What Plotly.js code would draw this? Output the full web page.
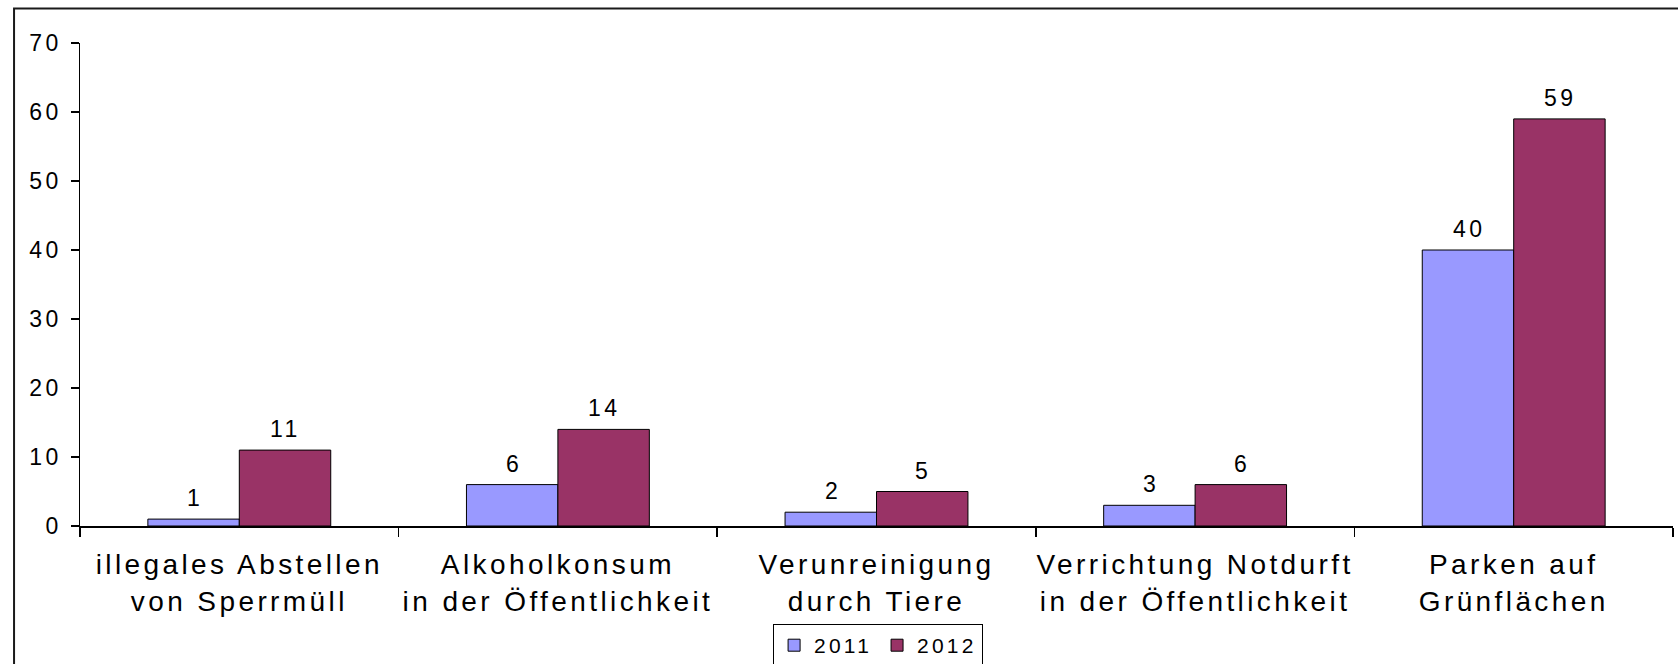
<!DOCTYPE html>
<html>
<head>
<meta charset="utf-8">
<script src="https://cdn.plot.ly/plotly-3.0.1.min.js"></script>
<style>
  html, body { margin: 0; padding: 0; background: #fff; overflow: hidden; width: 1678px; height: 664px; }
  #chart { width: 1678px; height: 664px; }
  .xtick text { letter-spacing: 3.4px; }
  .ytick text { letter-spacing: 3.5px; }
  .annotation-text { letter-spacing: 3.5px; }
  .legendtext { letter-spacing: 3.2px; }
</style>
</head>
<body>
<div id="chart"></div>
<script>
// ---- data ----
const categories = [
  "illegales Abstellen<br>von Sperrmüll",
  "Alkoholkonsum<br>in der Öffentlichkeit",
  "Verunreinigung<br>durch Tiere",
  "Verrichtung Notdurft<br>in der Öffentlichkeit",
  "Parken auf<br>Grünflächen"
];
const seriesNames = ["2011", "2012"];
const values2011 = [1, 6, 2, 3, 40];
const values2012 = [11, 14, 5, 6, 59];
const yTicks = [0, 10, 20, 30, 40, 50, 60, 70];

const colors = ["#9999FF", "#993366"];
const FONT = '"Liberation Sans", Arial, sans-serif';

const traces = [
  {
    type: "bar", name: seriesNames[0], x: categories, y: values2011,
    marker: { color: colors[0], line: { color: "#000000", width: 1 } },
    hoverinfo: "none"
  },
  {
    type: "bar", name: seriesNames[1], x: categories, y: values2012,
    marker: { color: colors[1], line: { color: "#000000", width: 1 } },
    hoverinfo: "none"
  }
];

const annotations = [];
[values2011, values2012].forEach((vals, si) => {
  vals.forEach((v, i) => {
    annotations.push({
      x: categories[i], y: v, xref: "x", yref: "y",
      text: String(v), showarrow: false,
      xshift: si === 0 ? -44 : 46.5, yshift: 6,
      yanchor: "bottom", xanchor: "center",
      font: { family: FONT, size: 23, color: "#000000" }
    });
  });
});

const layout = {
  width: 1678, height: 664,
  margin: { l: 80, r: 5, t: 43, b: 138, autoexpand: false },
  paper_bgcolor: "#ffffff", plot_bgcolor: "#ffffff",
  font: { family: FONT, color: "#000000" },
  barmode: "group", bargap: 0.426, bargroupgap: 0,
  showlegend: true,
  legend: {
    orientation: "h", x: 0.501, xanchor: "center", y: -0.203, yanchor: "top",
    bordercolor: "#000000", borderwidth: 1, bgcolor: "#ffffff",
    font: { family: FONT, size: 21, color: "#000000" },
    traceorder: "normal"
  },
  xaxis: {
    type: "category", tickson: "boundaries",
    showline: true, linecolor: "#000000", linewidth: 1.5,
    ticks: "outside", ticklen: 9, tickwidth: 1.5, tickcolor: "#000000",
    showgrid: false, zeroline: false,
    tickfont: { family: FONT, size: 28, color: "#000000" },
    ticklabelstandoff: 13,
    automargin: false, fixedrange: true
  },
  yaxis: {
    range: [0, 70], tickvals: yTicks, ticktext: yTicks.map(String),
    showline: true, linecolor: "#000000", linewidth: 1.5,
    ticks: "outside", ticklen: 8, tickwidth: 1.5, tickcolor: "#000000",
    showgrid: false, zeroline: false,
    tickfont: { family: FONT, size: 23, color: "#000000" },
    ticklabelstandoff: 4,
    automargin: false, fixedrange: true
  },
  annotations: annotations,
  shapes: [{
    type: "rect", xref: "paper", yref: "paper",
    x0: -0.0414, x1: 1.02, y0: -0.35, y1: 1.0714,
    line: { color: "#1a1a1a", width: 2 }, fillcolor: "rgba(0,0,0,0)", layer: "below"
  }]
};

Plotly.newPlot("chart", traces, layout, { displayModeBar: false, staticPlot: true });
</script>
</body>
</html>
